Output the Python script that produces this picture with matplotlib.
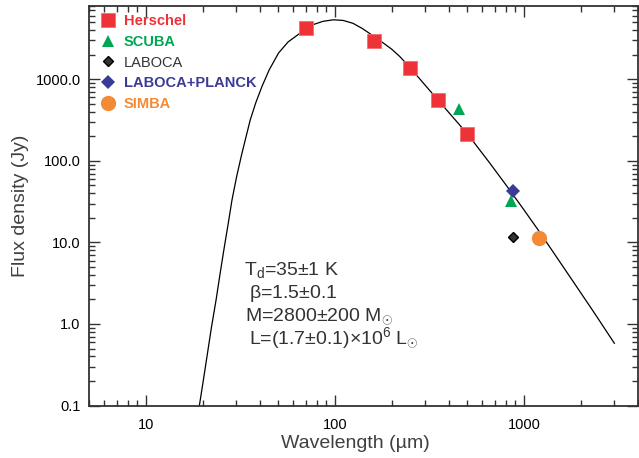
import matplotlib
matplotlib.use('Agg')
import matplotlib.pyplot as plt
from matplotlib.ticker import LogLocator, NullFormatter

plt.rcParams['font.family'] = ['Liberation Sans', 'DejaVu Sans']
plt.rcParams['mathtext.fontset'] = 'custom'
plt.rcParams['mathtext.rm'] = 'Liberation Sans'
plt.rcParams['mathtext.it'] = 'Liberation Sans'

# photometry (wavelength in micron, flux in Jy)
herschel_wl = [70, 160, 250, 350, 500]
herschel_flux = [4320, 2940, 1372, 556, 214]
scuba_wl = [450, 850]
scuba_flux = [433, 32]
laboca_wl = [870]
laboca_flux = [11.5]
laboca_planck_wl = [870]
laboca_planck_flux = [43.3]
simba_wl = [1200]
simba_flux = [11.4]

# modified blackbody fit, sampled point by point from the drawn curve
model_wl = [19.17, 20.13, 21.13, 22.18, 23.49, 24.75, 25.98, 27.27, 28.52, 30.23,
            32.20, 33.93, 35.62, 38.08, 41.06, 44.87, 50.22, 56.51, 64.03, 70.31,
            76.85, 86.45, 98.0, 110.2, 124.4, 138.8, 156.2, 175.9, 199.1, 220.2,
            250.7, 292.3, 350.6, 414.1, 501.1, 656.9, 804.6, 980.8, 1206, 1464,
            1807, 2323, 2999]
model_flux = [0.1, 0.2056, 0.4285, 0.893, 1.970, 4.345, 8.81, 17.34, 33.23, 65.5,
              124.3, 202.6, 318.4, 514.8, 816.1, 1308, 2097, 2880, 3560, 4100,
              4700, 5150, 5370, 5282, 4865, 4225, 3516, 2900, 2350, 1900,
              1372, 906, 555.7, 356.5, 214.5, 94.5, 50.06, 26.5, 13.45, 6.93,
              3.37, 1.423, 0.580]

yticks = [0.1, 1, 10, 100, 1000]
ytick_labels = ['0.1', '1.0', '10.0', '100.0', '1000.0']
xticks = [10, 100, 1000]
xtick_labels = ['10', '100', '1000']

fig = plt.figure(figsize=(6.39, 4.58), dpi=100)
ax = fig.add_axes([89 / 639, 1 - 405.5 / 458, 549 / 639, 399.8 / 458])

ax.plot(model_wl, model_flux, color='black', lw=0.9, zorder=2)

ax.plot(herschel_wl, herschel_flux, 's', color='#ee3338', ms=10, mec='#f26d70', mew=0.6,
        label='Herschel', zorder=3)
ax.plot(scuba_wl, scuba_flux, '^', color='#00a651', ms=8, mew=0, label='SCUBA', zorder=3)
ax.plot(laboca_wl, laboca_flux, 'D', color='#333333', ms=5, mec='black', mew=1,
        label='LABOCA', zorder=3)
ax.plot(laboca_planck_wl, laboca_planck_flux, 'D', color='#3a3b96', ms=7.5, mew=0,
        label='LABOCA+PLANCK', zorder=3)
ax.plot(simba_wl, simba_flux, 'o', color='#f58a35', ms=11, mew=0, label='SIMBA', zorder=3)

ax.set_xscale('log')
ax.set_yscale('log')
ax.set_xlim(5, 4000)
ax.set_ylim(0.1, 8000)

ax.set_xticks(xticks)
ax.set_xticklabels(xtick_labels)
ax.set_yticks(yticks)
ax.set_yticklabels(ytick_labels)
ax.xaxis.set_minor_locator(LogLocator(base=10, subs=range(2, 10), numticks=20))
ax.yaxis.set_minor_locator(LogLocator(base=10, subs=range(2, 10), numticks=20))
ax.xaxis.set_minor_formatter(NullFormatter())
ax.yaxis.set_minor_formatter(NullFormatter())
ax.tick_params(which='both', direction='in', top=True, right=True, colors='#333333',
               labelcolor='black', width=1)
ax.tick_params(which='major', length=8, labelsize=10.5)
ax.tick_params(axis='x', which='major', pad=9)
ax.tick_params(axis='y', which='major', pad=6)
ax.tick_params(which='minor', length=4)
for s in ax.spines.values():
    s.set_color('#333333')
    s.set_linewidth(1.3)

ax.set_xlabel('Wavelength (µm)', fontsize=14, color='#404040')
ax.set_ylabel('Flux density (Jy)', fontsize=14, color='#404040')
ax.xaxis.set_label_coords(0.485, -0.075)
ax.yaxis.set_label_coords(-0.11, 0.5)

leg = ax.legend(loc='upper left', frameon=False, fontsize=10.5, handlelength=1.0,
                handletextpad=0.6, labelspacing=0.45, borderaxespad=0.2,
                bbox_to_anchor=(0.005, 1.0))
leg_colors = ['#ee3338', '#00a651', '#333333', '#3a3b96', '#f58a35']
for t, c in zip(leg.get_texts(), leg_colors):
    t.set_color(c)
    if t.get_text() != 'LABOCA':
        t.set_fontweight('bold')

# fit parameters
fit_lines = [
    (244, 270, r'T$_{\mathrm{d}}$=35$\pm$1 K'),
    (249, 293, r'$\beta$=1.5$\pm$0.1'),
    (245, 316, r'M=2800$\pm$200 M$_{\odot}$'),
    (249, 338, r'L=(1.7$\pm$0.1)$\times$10$^{6}$ L$_{\odot}$'),
]
for x, y, s in fit_lines:
    fig.text(x / 639, 1 - y / 458, s, fontsize=14, color='#333333', va='center', ha='left')

fig.savefig('out.png', dpi=100)
